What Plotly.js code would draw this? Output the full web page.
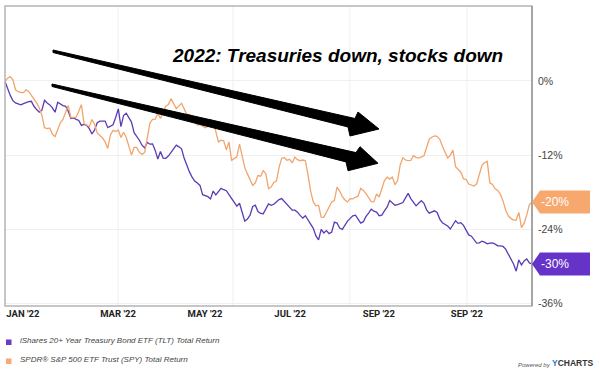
<!DOCTYPE html>
<html>
<head>
<meta charset="utf-8">
<script src="https://cdn.plot.ly/plotly-3.0.1.min.js"></script>
<style>html,body{margin:0;padding:0;background:#fff;}#chart{width:600px;height:378px;}</style>
</head>
<body>
<div id="chart"></div>
<script>
// Total return (%) since Jan 3 2022, one value per trading day
const spyReturn = [
  -0.11, 0.43, 0.69, 0.16, -1.44, -1.76, -1.92, -1.92, -1.44, -1.71,
  -2.35, -2.93, -3.57, -4.37, -5.6, -7.57, -7.73, -7.63, -8.64, -9.01,
  -7.73, -6.77, -6.24, -5.07, -4.0, -5.92, -5.92, -5.87, -4.91, -3.84,
  -6.93, -7.15, -7.41, -6.24, -7.04, -8.43, -8.8, -9.23, -9.87, -10.93,
  -8.75, -8.0, -8.21, -7.95, -9.17, -8.32, -9.12, -10.61, -12.0, -10.77,
  -10.77, -11.57, -11.89, -11.57, -9.17, -6.83, -6.24, -6.19, -5.28, -6.08,
  -5.07, -4.11, -3.84, -2.88, -3.68, -4.48, -4.05, -3.63, -4.53, -5.44,
  -5.44, -6.03, -6.51, -7.15, -7.04, -7.31, -7.57, -7.36, -6.24, -6.51,
  -8.21, -9.87, -9.6, -9.71, -11.15, -9.87, -12.85, -12.59, -12.27, -10.24,
  -12.0, -14.03, -15.04, -16.11, -16.91, -16.48, -15.31, -15.41, -14.51,
  -15.04, -17.44, -17.17, -16.43, -16.21, -14.03, -12.53, -12.43, -12.85, -12.69,
  -13.28, -12.32, -12.75, -12.91, -12.8, -12.91, -15.2, -17.87, -19.57, -20.21,
  -20.11, -22.03, -22.08, -21.23, -20.64, -19.57, -19.36, -17.17, -17.81, -18.67,
  -19.25, -19.57, -19.04, -19.09, -18.83, -18.61, -17.39, -17.71, -18.24, -18.88,
  -19.52, -19.57, -18.29, -18.77, -17.39, -16.11, -15.57, -15.89, -15.57, -16.8,
  -16.11, -13.55, -12.43, -12.8, -12.91, -12.85, -12.11, -12.37, -12.48, -12.27,
  -12.11, -10.77, -9.44, -9.12, -8.91, -8.96, -9.44, -10.56, -11.68, -12.48,
  -12.0, -11.2, -13.87, -14.29, -14.77, -15.84, -15.95, -16.69, -16.91, -17.01,
  -16.64, -14.93, -13.65, -13.23, -13.01, -16.48, -16.75, -17.44, -17.71, -18.35,
  -19.41, -20.91, -21.81, -22.24, -22.51, -22.51, -21.28, -23.73, -23.04, -21.71, -20.0,
  -19.6
];
const tltReturn = [
  -0.11, -1.33, -2.35, -3.2, -3.57, -3.73, -3.89, -3.68, -3.47, -3.36,
  -3.31, -4.11, -4.64, -5.07, -4.75, -3.15, -3.57, -3.89, -4.37, -5.07,
  -3.47, -3.79, -4.0, -4.11, -4.91, -6.08, -5.97, -6.24, -6.4, -7.2,
  -7.04, -7.2, -7.73, -8.59, -7.95, -6.77, -6.51, -6.51, -6.51, -7.57,
  -7.36, -7.09, -5.92, -4.53, -7.41, -5.6, -5.23, -5.87, -6.67, -8.37,
  -8.91, -9.6, -10.4, -10.83, -9.97, -10.24, -10.19, -11.25, -12.64, -11.41,
  -12.48, -12.53, -12.16, -11.57, -10.99, -10.4, -10.67, -10.99, -12.53, -13.81,
  -14.72, -15.57, -16.21, -16.53, -16.91, -18.4, -18.51, -18.72, -19.09, -17.81,
  -18.45, -17.97, -17.39, -17.6, -17.76, -18.4, -19.09, -19.63, -20.27, -19.79,
  -21.44, -22.67, -22.35, -21.71, -20.32, -20.11, -21.12, -21.44, -21.49,
  -20.75, -19.89, -20.11, -19.95, -19.57, -19.2, -19.04, -19.52, -20.0, -20.53,
  -20.91, -20.91, -21.23, -21.76, -22.19, -21.81, -22.45, -22.99, -23.84, -25.06,
  -25.7, -24.0, -24.59, -24.21, -24.69, -24.43, -22.83, -22.99, -23.79, -24.0,
  -23.25, -22.67, -22.24, -21.81, -21.71, -22.4, -22.99, -22.77, -21.92, -21.39,
  -20.75, -21.07, -21.23, -21.81, -21.71, -21.01, -20.43, -19.36, -19.68, -20.11,
  -20.0, -19.84, -19.68, -18.93, -18.19, -19.04, -19.57, -20.21, -19.79, -19.36,
  -19.79, -20.85, -21.39, -21.17, -21.01, -21.28, -22.35, -22.93, -23.2, -23.47,
  -23.95, -23.2, -22.61, -23.04, -22.93, -23.36, -24.21, -24.91, -25.12, -25.65,
  -26.24, -26.19, -25.92, -26.08, -26.35, -26.24, -26.19, -26.4, -26.67, -26.67,
  -26.77, -27.2, -28.0, -28.64, -29.6, -30.77, -28.96, -29.76, -29.1, -28.8, -29.44,
  -29.6
];
const tradingDay = spyReturn.map((_, i) => i);

const xTickLabels = ["JAN '22", "MAR '22", "MAY '22", "JUL '22", "SEP '22", "SEP '22"];
const xTickDays = [6.8, 42.9, 75.9, 108.2, 141.9, 175.3];
const xGridDays = [42.9, 86.5, 130.9, 175.3];
const yTickVals = [-36, -24, -12, 0];
const yTickLabels = ["-36%", "-24%", "-12%", "0%"];
const seriesNames = [
  "iShares 20+ Year Treasury Bond ETF (TLT) Total Return",
  "SPDR® S&P 500 ETF Trust (SPY) Total Return"
];
const endLabels = ["-30%", "-20%"];
const chartTitle = "2022: Treasuries down, stocks down";

const PURPLE = '#5b3cb4', ORANGE = '#f1a56e';
const TAG_PURPLE = '#6633c9', TAG_ORANGE = '#f7a86f';

// plot area in pixels: left 5, right 532, top 6, bottom 306
const PL = 5, PW = 527, PT = 6, PH = 300;
const px = x => (x - PL) / PW;
const py = y => (PT + PH - y) / PH;
function poly(pts) {
  return 'M ' + pts.map(p => px(p[0]).toFixed(4) + ' ' + py(p[1]).toFixed(4)).join(' L ') + ' Z';
}

const traces = [
  {x: tradingDay, y: tltReturn, type: 'scatter', mode: 'lines', name: seriesNames[0],
   line: {color: PURPLE, width: 1.3}, hoverinfo: 'skip'},
  {x: tradingDay, y: spyReturn, type: 'scatter', mode: 'lines', name: seriesNames[1],
   line: {color: ORANGE, width: 1.3}, hoverinfo: 'skip'}
];

const yMin = -36.4, yMax = 12.1;
const halfTag = 11.5 * (yMax - yMin) / PH;

const shapes = [];
xGridDays.forEach(d => shapes.push({type: 'line', xref: 'x', yref: 'paper', x0: d, x1: d, y0: 0, y1: 1,
  line: {color: '#efefef', width: 1}, layer: 'below'}));
// plot frame
shapes.push({type: 'rect', xref: 'paper', yref: 'paper', x0: 0, x1: 1, y0: 0, y1: 1,
  line: {color: '#b4b4b4', width: 1.5}, layer: 'above'});
shapes.push({type: 'line', xref: 'paper', yref: 'paper', x0: 1, x1: 1, y0: 0, y1: 1,
  line: {color: '#9a9a9a', width: 1.5}, layer: 'above'});
// hand-drawn arrows
shapes.push({type: 'path', xref: 'paper', yref: 'paper', layer: 'above',
  path: poly([[53, 50], [355, 118.5], [358, 112], [379, 129], [350, 136], [348, 127], [53, 52.5]]),
  fillcolor: '#000', line: {color: '#000', width: 1}});
shapes.push({type: 'path', xref: 'paper', yref: 'paper', layer: 'above',
  path: poly([[52, 84], [356, 152.6], [360, 146.7], [378, 163.3], [348, 170.7], [346, 161.9], [52, 86.5]]),
  fillcolor: '#000', line: {color: '#000', width: 1}});
// end-value tags
const lastT = tltReturn[tltReturn.length - 1], lastS = spyReturn[spyReturn.length - 1];
function tag(v, color) {
  const a = px(532), b = px(540), c = px(590);
  return {type: 'path', xref: 'paper', yref: 'y', layer: 'above',
    path: `M ${a} ${v} L ${b} ${v + halfTag} L ${c} ${v + halfTag} L ${c} ${v - halfTag} L ${b} ${v - halfTag} Z`,
    fillcolor: color, line: {width: 0}};
}
shapes.push(tag(lastT, TAG_PURPLE));
shapes.push(tag(lastS, TAG_ORANGE));
// legend squares
shapes.push({type: 'rect', xref: 'paper', yref: 'paper', x0: px(6), x1: px(11.5), y0: py(339.5), y1: py(345),
  fillcolor: '#6a3cc6', line: {width: 0}});
shapes.push({type: 'rect', xref: 'paper', yref: 'paper', x0: px(6), x1: px(11.5), y0: py(358.5), y1: py(364),
  fillcolor: '#f5ab77', line: {width: 0}});

const annotations = [
  {text: '<b><i>' + chartTitle + '</i></b>', xref: 'paper', yref: 'paper', x: px(337), y: py(43),
   showarrow: false, font: {family: 'Liberation Sans, Arial, sans-serif', size: 19, color: '#000'}},
  {text: endLabels[0], xref: 'paper', yref: 'y', x: px(571), y: lastT, showarrow: false,
   font: {family: 'Liberation Sans, Arial, sans-serif', size: 12, color: '#fff'}},
  {text: endLabels[1], xref: 'paper', yref: 'y', x: px(571), y: lastS, showarrow: false,
   font: {family: 'Liberation Sans, Arial, sans-serif', size: 12, color: '#fff'}},
  {text: '<i>' + seriesNames[0] + '</i>', xref: 'paper', yref: 'paper', x: px(18), y: py(346.5),
   xanchor: 'left', showarrow: false, font: {family: 'Liberation Sans, Arial, sans-serif', size: 8, color: '#444'}},
  {text: '<i>' + seriesNames[1] + '</i>', xref: 'paper', yref: 'paper', x: px(18), y: py(365.5),
   xanchor: 'left', showarrow: false, font: {family: 'Liberation Sans, Arial, sans-serif', size: 8, color: '#444'}},
  {text: '<i>Powered by</i>', xref: 'paper', yref: 'paper', x: px(553), y: py(370),
   xanchor: 'right', showarrow: false, font: {family: 'Liberation Sans, Arial, sans-serif', size: 6, color: '#555'}},
  {text: '<b><span style="color:#2c79c9">Y</span>CHARTS</b>', xref: 'paper', yref: 'paper', x: px(595), y: py(370),
   xanchor: 'right', showarrow: false, font: {family: 'Liberation Sans, Arial, sans-serif', size: 8.5, color: '#333'}}
];

const layout = {
  width: 600, height: 378,
  margin: {l: 5, r: 68, t: 6, b: 72, pad: 0},
  paper_bgcolor: '#fff', plot_bgcolor: '#fff',
  showlegend: false,
  xaxis: {range: [0, 200], tickvals: xTickDays, ticktext: xTickLabels, showgrid: false,
    zeroline: false, showline: false, ticks: '', fixedrange: true,
    tickfont: {family: 'Liberation Sans Narrow, Roboto, sans-serif', size: 9.5, color: '#222', weight: 'bold'}},
  yaxis: {range: [yMin, yMax], side: 'right', tickvals: yTickVals, ticktext: yTickLabels,
    showgrid: true, gridcolor: '#efefef', zeroline: false, showline: false, ticks: '',
    ticklabelstandoff: 5, fixedrange: true,
    tickfont: {family: 'Liberation Sans, Arial, sans-serif', size: 10.5, color: '#444'}},
  shapes: shapes,
  annotations: annotations
};

Plotly.newPlot('chart', traces, layout, {displayModeBar: false, staticPlot: true});
</script>
</body>
</html>
